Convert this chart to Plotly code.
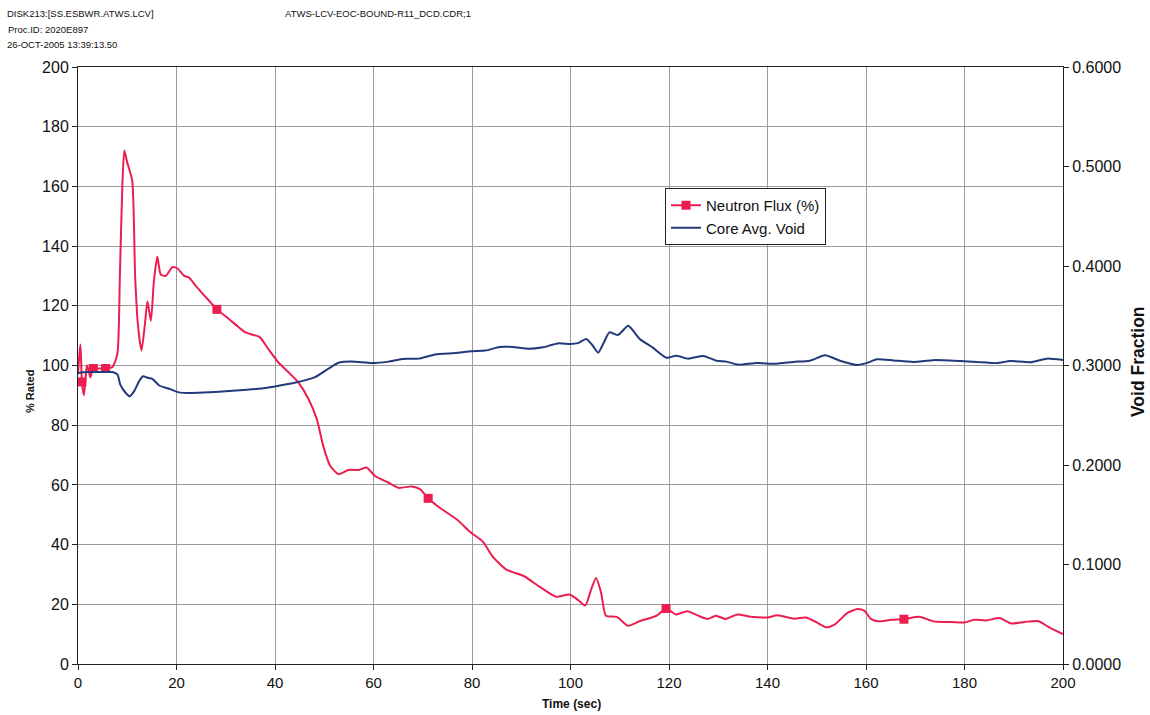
import plotly.graph_objects as go

# ---------------- data ----------------
flux_time = [0, 0.3, 0.5, 0.8, 1.2, 1.5, 1.8, 2.2, 2.5, 3.1, 4.0, 5.6, 7.0, 8.0, 8.5, 9.0, 9.4,
             10.0, 11.0, 11.6, 12.2, 12.9, 13.6, 14.1, 14.8, 15.4, 16.1, 16.8, 17.8, 19.2, 20.2,
             21.6, 22.5, 24.0, 25.6, 27.0, 28.2, 30.7, 32.5, 34.1, 36.9, 38.6, 40.7, 42.7, 44.7,
             46.8, 48.5, 49.8, 51.2, 52.9, 54.9, 57.0, 58.6, 60.3, 63.0, 65.1, 67.8, 69.5, 71.1,
             73.3, 77.0, 79.5, 82.2, 84.2, 86.9, 90.6, 93.7, 97.1, 99.8, 101.5, 103.0, 104.2,
             105.2, 106.2, 107.2, 109.4, 111.7, 114.0, 117.5, 119.4, 121.4, 123.7, 125.8, 127.8,
             129.5, 131.5, 133.9, 136.6, 140.0, 142.0, 145.4, 147.8, 149.8, 151.9, 153.6, 156.3,
             158.3, 159.7, 161.0, 162.4, 165.1, 167.7, 170.8, 173.9, 177.3, 180.0, 182.0, 184.4,
             187.1, 189.5, 192.2, 194.9, 197.3, 200.0]
flux_pct = [97, 104, 107, 94.5, 90, 95, 100, 98, 96, 99, 99, 99, 99.5, 104, 130, 160, 172,
            168, 162, 130, 113, 105, 114, 121.5, 115, 128, 136.5, 130.5, 130, 133, 132.5,
            130, 129.5, 126.5, 123.5, 121, 118.8, 115.5, 113, 111, 109.5, 105.6, 101, 97.8, 94.4,
            88.8, 82, 73, 66.4, 63.6, 65, 65, 65.8, 63, 60.8, 59, 59.5, 58.5, 55.5,
            52.5, 48.3, 44.4, 41, 36, 31.7, 29.4, 25.9, 22.5, 23.3, 21.5, 19.6, 25,
            28.8, 24, 16.2, 15.8, 12.8, 14.3, 16.2, 18.6, 16.6, 17.7, 16.3, 15.1,
            16.2, 15.1, 16.6, 15.8, 15.6, 16.3, 15.2, 15.6, 14.1, 12.3, 13.2, 17.2,
            18.4, 17.8, 15.1, 14.3, 14.8, 15.0, 15.8, 14.2, 14.1, 13.9, 14.8, 14.6,
            15.4, 13.6, 14.1, 14.4, 12.2, 10.0]
marker_times = [0.8, 3.1, 5.6, 28.2, 71.1, 119.4, 167.7]

void_time = [0, 2, 5, 7, 8, 8.6, 9.7, 10.5, 11.4, 12.4, 13.2, 14.1, 15.1, 16.5, 18.5, 20.5,
             22.6, 26.7, 31.4, 36.6, 40, 44, 48, 50.8, 52.9, 55.6, 59.7, 63, 65.8, 69.2, 72.5,
             76.6, 80, 82.7, 85.6, 88.3, 91.6, 94.4, 97.4, 100, 101.5, 103.2, 104.5, 105.6,
             106.8, 107.9, 109.6, 111.7, 112.6, 114, 116.7, 119.5, 121.5, 123.9, 127, 129.6,
             131.7, 134, 137.8, 141.8, 145.2, 148.6, 151.7, 154.7, 158.1, 160.1, 162.2, 165.6,
             169.6, 173.7, 179.1, 182.5, 186.6, 189.3, 193.4, 196.7, 200]
void_frac = [0.2925, 0.2934, 0.2934, 0.2934, 0.2910, 0.2805, 0.2724, 0.2691, 0.2742, 0.2841,
             0.2892, 0.2877, 0.2865, 0.2799, 0.2766, 0.2730, 0.2724, 0.2730, 0.2745, 0.2766,
             0.2790, 0.2826, 0.2880, 0.2967, 0.3027, 0.3039, 0.3024, 0.3039, 0.3066, 0.3069,
             0.3111, 0.3126, 0.3144, 0.3150, 0.3186, 0.3186, 0.3168, 0.3183, 0.3222, 0.3216,
             0.3225, 0.3267, 0.3201, 0.3129, 0.3234, 0.3333, 0.3306, 0.3399, 0.3357, 0.3270,
             0.3180, 0.3078, 0.3099, 0.3069, 0.3096, 0.3048, 0.3039, 0.3009, 0.3024, 0.3018,
             0.3036, 0.3048, 0.3102, 0.3048, 0.3006, 0.3024, 0.3063, 0.3051, 0.3036, 0.3054,
             0.3045, 0.3036, 0.3024, 0.3045, 0.3033, 0.3069, 0.3054]

left_ticks = [0, 20, 40, 60, 80, 100, 120, 140, 160, 180, 200]
right_ticks = [0.0, 0.1, 0.2, 0.3, 0.4, 0.5, 0.6]
time_ticks = [0, 20, 40, 60, 80, 100, 120, 140, 160, 180, 200]

header_lines = ["DISK213:[SS.ESBWR.ATWS.LCV]", "Proc.ID: 2020E897", "26-OCT-2005 13:39:13.50"]
file_label = "ATWS-LCV-EOC-BOUND-R11_DCD.CDR;1"

# ---------------- styling ----------------
RED = "#EC1E50"
BLUE = "#22397A"
FONT = "Arial, Liberation Sans, sans-serif"
GRID = "#9C9C9C"

marker_flux = [flux_pct[flux_time.index(t)] for t in marker_times]

fig = go.Figure()
fig.add_trace(go.Scatter(x=flux_time, y=flux_pct, mode="lines",
                         line=dict(color=RED, width=2, shape="spline", smoothing=0.6),
                         showlegend=False, hoverinfo="skip"))
fig.add_trace(go.Scatter(x=marker_times, y=marker_flux, mode="markers",
                         marker=dict(color=RED, symbol="square", size=9),
                         showlegend=False))
fig.add_trace(go.Scatter(x=[None], y=[None], mode="lines+markers", name="Neutron Flux (%)",
                         line=dict(color=RED, width=2),
                         marker=dict(color=RED, symbol="square", size=9)))
fig.add_trace(go.Scatter(x=void_time, y=void_frac, mode="lines", name="Core Avg. Void",
                         line=dict(color=BLUE, width=2, shape="spline", smoothing=0.6),
                         yaxis="y2"))

W, H = 1150, 715
L, R, T, B = 78, 87, 67, 51
pw, ph = W - L - R, H - T - B

def px(x):
    return (x - L) / pw

def py(y):
    return (H - B - y) / ph

annotations = []
for txt, xx, yy in zip(header_lines, [5, 6, 5], [13, 30, 45]):
    annotations.append(dict(text=txt, x=px(xx), y=py(yy), xref="paper", yref="paper",
                            xanchor="left", yanchor="middle", showarrow=False,
                            font=dict(family=FONT, size=9.5, color="#111")))
annotations.append(dict(text=file_label, x=px(283), y=py(13), xref="paper", yref="paper",
                        xanchor="left", yanchor="middle", showarrow=False,
                        font=dict(family=FONT, size=9.5, color="#111")))
annotations.append(dict(text="<b>% Rated</b>", x=px(30), y=py(392), xref="paper", yref="paper",
                        textangle=-90, showarrow=False, xanchor="center", yanchor="middle",
                        font=dict(family=FONT, size=11, color="#111")))
annotations.append(dict(text="<b>Void Fraction</b>", x=px(1138), y=py(362), xref="paper", yref="paper",
                        textangle=-90, showarrow=False, xanchor="center", yanchor="middle",
                        font=dict(family=FONT, size=17.5, color="#111")))
annotations.append(dict(text="<b>Time (sec)</b>", x=px(571), y=py(704), xref="paper", yref="paper",
                        showarrow=False, xanchor="center", yanchor="middle",
                        font=dict(family=FONT, size=12, color="#111")))

fig.update_layout(
    width=W, height=H, autosize=False,
    margin=dict(l=L, r=R, t=T, b=B, pad=0),
    paper_bgcolor="white", plot_bgcolor="white",
    font=dict(family=FONT, color="#111"),
    xaxis=dict(range=[0, 200], tickvals=time_ticks, showgrid=True, gridcolor=GRID, gridwidth=1,
               showline=True, linecolor="#222", linewidth=1, mirror=True,
               ticks="outside", ticklen=5, tickcolor="#222", zeroline=False,
               tickfont=dict(family=FONT, size=15)),
    yaxis=dict(range=[0, 200], tickvals=left_ticks, showgrid=True, gridcolor=GRID, gridwidth=1,
               showline=True, linecolor="#222", linewidth=1,
               ticks="outside", ticklen=5, tickcolor="#222", zeroline=False,
               tickfont=dict(family=FONT, size=16)),
    yaxis2=dict(range=[0, 0.6], tickvals=right_ticks, tickformat=".4f", overlaying="y", side="right",
                showgrid=False, showline=True, linecolor="#222", linewidth=1,
                ticks="outside", ticklen=5, tickcolor="#222", zeroline=False,
                tickfont=dict(family=FONT, size=16)),
    legend=dict(x=px(665), y=py(188), xanchor="left", yanchor="top",
                bgcolor="white", bordercolor="#222", borderwidth=1,
                font=dict(family=FONT, size=15, color="#111"), tracegroupgap=0),
    annotations=annotations,
)

fig.write_html("out.html")
